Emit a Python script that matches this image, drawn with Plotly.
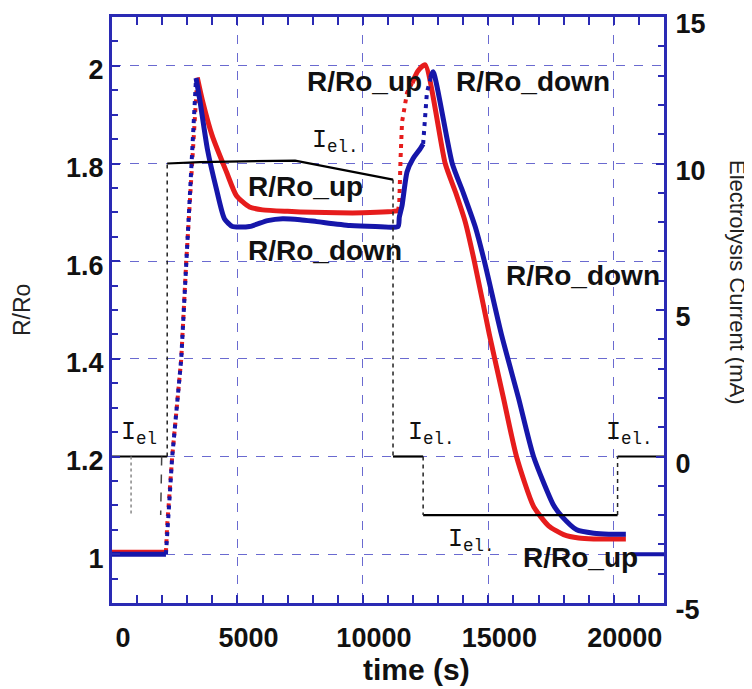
import plotly.graph_objects as go

# ---------------- data ----------------
up_time = [0, 2150, 2200, 2400, 2760, 2960, 3200, 3400, 3600, 4000, 4560, 4960, 5480,
           6000, 7000, 8000, 9000, 10000, 11000, 11400, 11450, 11500, 11560, 11760,
           11960, 12200, 12480, 13280, 13700, 14080, 14440, 15040, 15600, 16120, 16800,
           17400, 18000, 18600, 19200, 20480]
up_ratio = [1.004, 1.004, 1.06, 1.2, 1.4, 1.6, 1.8, 1.976, 1.93, 1.856, 1.783, 1.734, 1.711,
            1.705, 1.702, 1.700, 1.699, 1.699, 1.701, 1.703, 1.72, 1.81, 1.885, 1.945,
            1.965, 1.99, 2.002, 1.80, 1.74, 1.68, 1.60, 1.45, 1.32, 1.2, 1.098,
            1.058, 1.040, 1.033, 1.031, 1.031]

down_time = [0, 2150, 2200, 2250, 2400, 2760, 2960, 3200, 3350, 3500, 3800, 4160, 4480,
             4800, 5480, 6200, 6800, 7500, 8160, 9480, 10500, 11400, 11450, 11560, 11760,
             12000, 12280, 12400, 12450, 12550, 12700, 12800, 13560, 14000, 14480, 14840,
             15520, 16200, 16800, 17600, 17920, 18520, 19200, 19800, 20480]
down_ratio = [1.0, 1.0, 1.04, 1.09, 1.2, 1.4, 1.6, 1.8, 1.975, 1.93, 1.83, 1.748, 1.687,
              1.671, 1.671, 1.683, 1.687, 1.685, 1.681, 1.673, 1.671, 1.671, 1.69, 1.714, 1.783,
              1.81, 1.83, 1.84, 1.87, 1.945, 1.975, 1.988, 1.80, 1.74, 1.67, 1.60,
              1.45, 1.32, 1.2, 1.1, 1.078, 1.05, 1.043, 1.041, 1.041]

tail_time = [20700, 22000]
tail_ratio = [1.0, 1.0]

current_time = [0, 2200, 2200, 3500, 7300, 11200, 11200, 12400, 12400, 20150, 20150, 22000]
current_mA = [0, 0, 10.0, 10.05, 10.1, 9.45, 0, 0, -2.0, -2.0, 0, 0]

x_ticks = [0, 5000, 10000, 15000, 20000]
ratio_ticks = [1, 1.2, 1.4, 1.6, 1.8, 2]
current_ticks = [-5, 0, 5, 10, 15]

# text labels: (time, ratio, text)
curve_labels = [
    (7700, 1.968, "R/Ro_up"),
    (13640, 1.968, "R/Ro_down"),
    (5360, 1.752, "R/Ro_up"),
    (5360, 1.622, "R/Ro_down"),
    (15640, 1.571, "R/Ro_down"),
    (16320, 0.993, "R/Ro_up"),
]
current_labels = [
    (280, 1.247, "I<sub>el</sub>"),
    (7880, 1.846, "I<sub>el.</sub>"),
    (11720, 1.247, "I<sub>el.</sub>"),
    (19600, 1.247, "I<sub>el.</sub>"),
    (13320, 1.029, "I<sub>el.</sub>"),
]
# pointer lines from the I_el label: (t0, r0, t1, r1)
pointer_lines = [(760, 1.2, 760, 1.08), (1980, 1.2, 1940, 1.08)]

# jump sections drawn as dotted
up_dotted = [(2150, 3400), (11400, 11960)]
down_dotted = [(2150, 3350), (12400, 12700)]

RED = "#e61c1c"
BLUE = "#1616aa"
FRAME = "#2a2ab4"
GRID = "#6a6ad0"
FONT = "Liberation Sans, Arial, sans-serif"


def split_runs(t, v, is_special):
    """Split a polyline into runs of normal / special segments."""
    runs = []
    for i in range(len(t) - 1):
        kind = is_special(t[i], t[i + 1])
        if runs and runs[-1][0] == kind:
            runs[-1][1].append(i + 1)
        else:
            runs.append([kind, [i, i + 1]])
    out = {True: ([], []), False: ([], [])}
    for kind, idx in runs:
        xs, ys = out[kind]
        if xs:
            xs.append(None)
            ys.append(None)
        xs.extend(t[j] for j in idx)
        ys.extend(v[j] for j in idx)
    return out


def in_windows(windows):
    return lambda a, b: any(lo <= a and b <= hi for lo, hi in windows)


fig = go.Figure()

for t, v, wins, col in [(up_time, up_ratio, up_dotted, RED),
                        (down_time, down_ratio, down_dotted, BLUE)]:
    parts = split_runs(t, v, in_windows(wins))
    fig.add_trace(go.Scatter(x=parts[False][0], y=parts[False][1], mode="lines",
                             line=dict(color=col, width=5, shape="spline", smoothing=0.6),
                             hoverinfo="skip"))
    fig.add_trace(go.Scatter(x=parts[True][0], y=parts[True][1], mode="lines",
                             line=dict(color=col, width=4, dash="4px,5px"), hoverinfo="skip"))

fig.add_trace(go.Scatter(x=tail_time, y=tail_ratio, mode="lines",
                         line=dict(color=BLUE, width=4), hoverinfo="skip"))

cparts = split_runs(current_time, current_mA, lambda a, b: a == b)
fig.add_trace(go.Scatter(x=cparts[False][0], y=cparts[False][1], mode="lines", yaxis="y2",
                         line=dict(color="black", width=2.2), hoverinfo="skip"))
fig.add_trace(go.Scatter(x=cparts[True][0], y=cparts[True][1], mode="lines", yaxis="y2",
                         line=dict(color="#222222", width=1.5, dash="4px,4px"), hoverinfo="skip"))

annotations = []
for tx, ry, txt in curve_labels:
    annotations.append(dict(x=tx, y=ry, xref="x", yref="y", text=txt, showarrow=False,
                            xanchor="left", yanchor="middle",
                            font=dict(family=FONT, size=28, color="#111111", weight="bold")))
for tx, ry, txt in current_labels:
    annotations.append(dict(x=tx, y=ry, xref="x", yref="y", text=txt, showarrow=False,
                            xanchor="left", yanchor="middle",
                            font=dict(family="Liberation Mono, Courier New, monospace",
                                      size=25, color="#111111")))

annotations += [
    dict(x=-0.163, y=0.5, xref="paper", yref="paper", text="R/Ro", textangle=-90,
         showarrow=False, xanchor="center", yanchor="middle",
         font=dict(family=FONT, size=23, color="#222222")),
    dict(x=1.132, y=0.548, xref="paper", yref="paper", text="Electrolysis Current (mA)",
         textangle=90, showarrow=False, xanchor="center", yanchor="middle",
         font=dict(family=FONT, size=22, color="#222222")),
    dict(x=0.5525, y=-0.114, xref="paper", yref="paper", text="time (s)",
         showarrow=False, xanchor="center", yanchor="middle",
         font=dict(family=FONT, size=30, color="#111111", weight="bold")),
]

shapes = []
for (t0, r0, t1, r1), col, dsh in zip(pointer_lines, ["#888888", "#444444"], ["dot", "dash"]):
    shapes.append(dict(type="line", xref="x", yref="y", x0=t0, y0=r0, x1=t1, y1=r1,
                       line=dict(color=col, width=1.5, dash=dsh)))

tickfont = dict(family=FONT, size=27, color="#111111", weight="bold")

# the page body adds an 8px margin, so the figure is 8px smaller and shifted
fig.update_layout(
    width=744, height=681,
    margin=dict(l=104, r=88, t=9, b=86, autoexpand=False),
    paper_bgcolor="white", plot_bgcolor="white",
    showlegend=False,
    annotations=annotations,
    shapes=shapes,
    xaxis=dict(range=[0, 22000], tickvals=x_ticks, ticktext=[str(v) for v in x_ticks],
               ticks="inside", ticklen=8, tickwidth=1.5, automargin=False,
               tickcolor=FRAME, showline=True, linecolor=FRAME, linewidth=3, mirror="allticks",
               showgrid=True, gridcolor=GRID, gridwidth=1, griddash="dash",
               minor=dict(dtick=1000, ticks="inside", ticklen=6, tickcolor=FRAME, showgrid=False),
               tickfont=tickfont, ticklabelstandoff=9, ticklabelshift=11, zeroline=False),
    yaxis=dict(range=[0.9, 2.1], tickvals=ratio_ticks, ticktext=[f"{v:g}" for v in ratio_ticks],
               ticks="inside", ticklen=8, tickwidth=1.5, automargin=False,
               tickcolor=FRAME, showline=True, linecolor=FRAME, linewidth=3, mirror=False,
               showgrid=True, gridcolor=GRID, gridwidth=1, griddash="dash",
               minor=dict(dtick=0.05, tick0=0.9, ticks="inside", ticklen=6, tickcolor=FRAME,
                          showgrid=False),
               tickfont=tickfont, ticklabelstandoff=0, ticklabelshift=4, zeroline=False),
    yaxis2=dict(range=[-5, 15], tickvals=current_ticks, ticktext=[str(v) for v in current_ticks],
                overlaying="y", side="right", automargin=False,
                ticks="inside", ticklen=8, tickwidth=1.5, tickcolor=FRAME,
                showline=True, linecolor=FRAME, linewidth=3, showgrid=False,
                minor=dict(dtick=1, ticks="inside", ticklen=6, tickcolor=FRAME, showgrid=False),
                tickfont=tickfont, ticklabelstandoff=3, ticklabelshift=7, zeroline=False),
)

fig.write_html("out.html")
